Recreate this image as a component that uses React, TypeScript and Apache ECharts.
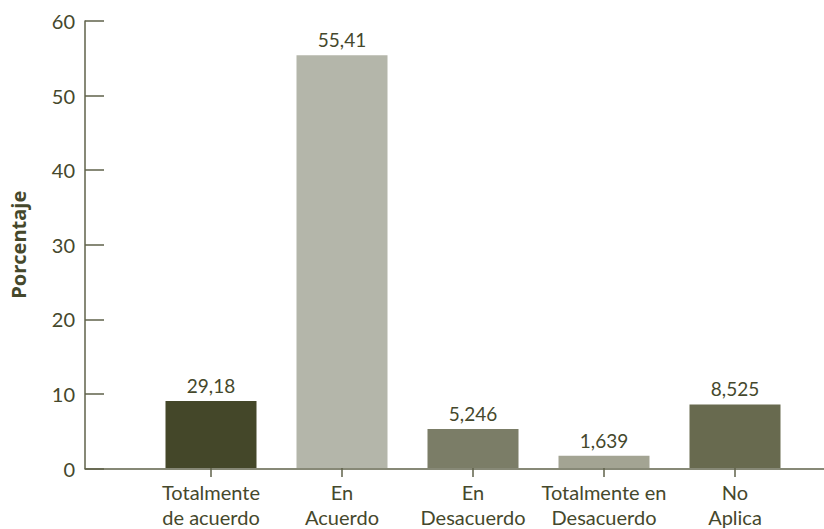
import React, { useEffect, useRef } from "react";
import * as echarts from "echarts";

const categories = [
  "Totalmente\nde acuerdo",
  "En\nAcuerdo",
  "En\nDesacuerdo",
  "Totalmente en\nDesacuerdo",
  "No\nAplica",
];
// bar heights as drawn in the picture
const barValues = [9.0, 55.41, 5.246, 1.639, 8.525];
// labels printed above the bars
const barLabels = ["29,18", "55,41", "5,246", "1,639", "8,525"];
const barColors = ["#444729", "#b4b6aa", "#7b7d67", "#a3a493", "#686a4f"];
const yTicks = { min: 0, max: 60, interval: 10 };

const TEXT = "#45482c";
const AXIS = "#5f624a";
const FONT = "Lato, 'Open Sans', sans-serif";

export default function App() {
  const ref = useRef<HTMLDivElement>(null);
  useEffect(() => {
    if (!ref.current) return;
    const chart = echarts.init(ref.current, undefined, { renderer: "svg" });
    const top = 21;
    const bottom = 60.5;
    chart.setOption({
      animation: false,
      textStyle: { fontFamily: FONT, color: TEXT },
      grid: [
        { left: 145.5, right: 23.5, top, bottom },
        { left: 85, right: 0, top, bottom },
      ],
      xAxis: [
        {
          type: "category",
          gridIndex: 0,
          data: categories,
          axisLine: { show: false },
          axisTick: {
            show: true,
            alignWithLabel: true,
            length: 9,
            lineStyle: { color: AXIS, width: 1.5 },
          },
          axisLabel: {
            color: TEXT,
            fontFamily: FONT,
            fontSize: 20,
            lineHeight: 24.5,
            margin: 12,
            interval: 0,
          },
        },
        {
          type: "value",
          gridIndex: 1,
          min: 0,
          max: 1,
          axisLine: { show: true, onZero: false, lineStyle: { color: AXIS, width: 1.5 } },
          axisTick: { show: false },
          axisLabel: { show: false },
          splitLine: { show: false },
        },
      ],
      yAxis: [
        {
          type: "value",
          gridIndex: 0,
          min: yTicks.min,
          max: yTicks.max,
          interval: yTicks.interval,
          show: false,
          splitLine: { show: false },
        },
        {
          type: "value",
          gridIndex: 1,
          min: yTicks.min,
          max: yTicks.max,
          interval: yTicks.interval,
          name: "Porcentaje",
          nameLocation: "middle",
          nameGap: 57,
          nameTextStyle: {
            color: TEXT,
            fontFamily: "'Open Sans', Lato, sans-serif",
            fontSize: 20,
            fontWeight: "bold",
          },
          axisLine: { show: true, lineStyle: { color: AXIS, width: 1.5 } },
          axisTick: {
            show: true,
            inside: true,
            length: 19,
            lineStyle: { color: AXIS, width: 1.5 },
          },
          axisLabel: {
            color: TEXT,
            fontFamily: FONT,
            fontSize: 20,
            margin: 10,
          },
          splitLine: { show: false },
        },
      ],
      series: [
        {
          type: "bar",
          xAxisIndex: 0,
          yAxisIndex: 0,
          barWidth: 91,
          data: barValues.map((v, i) => ({
            value: v,
            itemStyle: { color: barColors[i] },
          })),
          label: {
            show: true,
            position: "top",
            distance: 6,
            color: TEXT,
            fontFamily: FONT,
            fontSize: 19,
            formatter: (p: any) => barLabels[p.dataIndex],
          },
        },
      ],
    });
    return () => chart.dispose();
  }, []);
  return <div ref={ref} style={{ width: 824, height: 529, position: "absolute", left: 0, top: 0 }} />;
}
